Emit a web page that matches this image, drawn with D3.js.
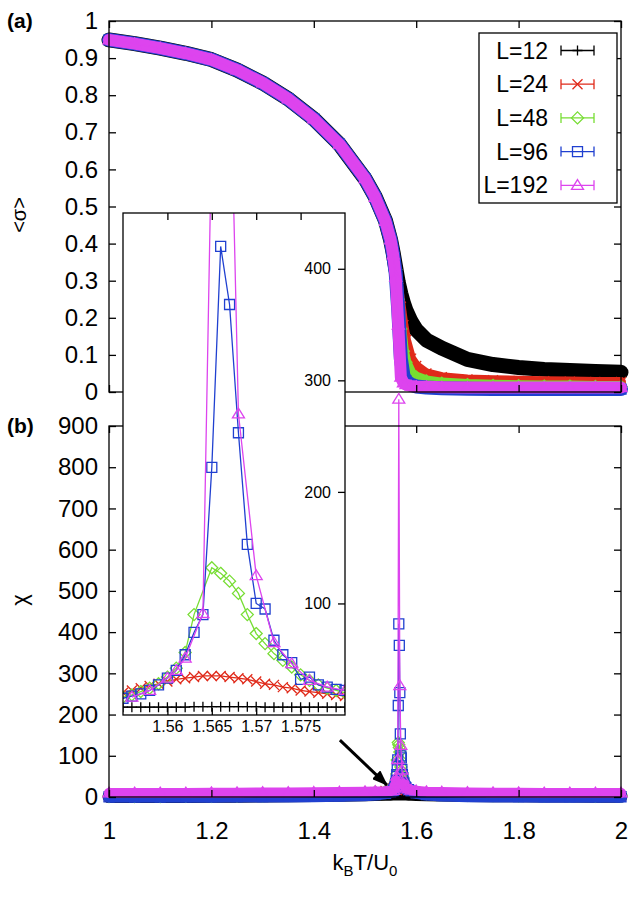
<!DOCTYPE html>
<html>
<head>
<meta charset="utf-8">
<script src="https://cdn.jsdelivr.net/npm/d3@7"></script>
<style>
  body { margin: 0; background: #fff; }
  text { font-family: 'Liberation Sans', Arial, sans-serif; fill: #000; }
</style>
</head>
<body>
<svg id="chart" width="630" height="899"></svg>
<script>
// ---- data ----
const sizes = ['L=12', 'L=24', 'L=48', 'L=96', 'L=192'];
const colors = ['#000000', '#e02a1a', '#77dd33', '#2040d0', '#dd44ee'];
const markerKinds = ['plus', 'cross', 'diamond', 'square', 'triangle'];

// panel (a): order parameter <sigma> vs k_B T / U_0
const tempsA = [1.00, 1.05, 1.10, 1.15, 1.20, 1.25, 1.30, 1.35, 1.40, 1.45, 1.50, 1.52, 1.54, 1.55,
  1.555, 1.56, 1.565, 1.57, 1.575, 1.58, 1.59, 1.60, 1.62, 1.65, 1.70, 1.75, 1.80, 1.85, 1.90, 1.95, 2.00];
const sigma12 = [0.949, 0.939, 0.927, 0.913, 0.896, 0.868, 0.833, 0.790, 0.736, 0.668, 0.575, 0.526, 0.462, 0.41,
  0.375, 0.335, 0.295, 0.265, 0.24, 0.22, 0.19, 0.168, 0.14, 0.118, 0.088, 0.074, 0.066, 0.061, 0.058, 0.055, 0.053];
const sigma24 = [0.949, 0.939, 0.927, 0.913, 0.896, 0.868, 0.833, 0.790, 0.736, 0.668, 0.575, 0.526, 0.462, 0.41,
  0.375, 0.33, 0.28, 0.23, 0.18, 0.14, 0.09, 0.07, 0.05, 0.04, 0.034, 0.032, 0.030, 0.029, 0.028, 0.027, 0.027];
const sigma48 = [0.949, 0.939, 0.927, 0.913, 0.896, 0.868, 0.833, 0.790, 0.736, 0.668, 0.575, 0.525, 0.460, 0.41,
  0.375, 0.33, 0.25, 0.17, 0.11, 0.08, 0.05, 0.04, 0.03, 0.024, 0.02, 0.018, 0.017, 0.016, 0.016, 0.015, 0.015];
const sigma96 = [0.949, 0.939, 0.927, 0.913, 0.896, 0.868, 0.833, 0.790, 0.736, 0.668, 0.575, 0.525, 0.460, 0.41,
  0.37, 0.32, 0.22, 0.09, 0.045, 0.03, 0.02, 0.015, 0.012, 0.010, 0.009, 0.008, 0.008, 0.008, 0.008, 0.008, 0.008];
const sigma192 = [0.949, 0.939, 0.927, 0.913, 0.896, 0.868, 0.833, 0.790, 0.736, 0.668, 0.575, 0.525, 0.460, 0.41,
  0.37, 0.31, 0.18, 0.04, 0.025, 0.02, 0.016, 0.015, 0.014, 0.013, 0.012, 0.012, 0.012, 0.012, 0.012, 0.012, 0.012];

// panel (b): susceptibility chi, away from the peak
const tempsFar = [1.00, 1.05, 1.10, 1.15, 1.20, 1.25, 1.30, 1.35, 1.40, 1.45, 1.50, 1.52, 1.54, 1.55,
  1.585, 1.59, 1.60, 1.62, 1.65, 1.70, 1.75, 1.80, 1.85, 1.90, 1.95, 2.00];
const chiFar12 = [1, 1, 1.2, 1.4, 1.6, 1.9, 2.3, 2.8, 3.4, 4.2, 5.2, 5.8, 6.4, 6.8,
  6.8, 6.6, 6.2, 5.5, 4.7, 3.8, 3.2, 2.8, 2.5, 2.2, 2.0, 1.9];
const chiFar24 = [1, 1, 1.2, 1.5, 1.8, 2.3, 2.9, 3.7, 4.8, 6.5, 9.5, 11.5, 14.5, 17,
  16, 14.5, 12, 9, 6.5, 4.5, 3.5, 2.8, 2.4, 2.1, 1.9, 1.8];
const chiFar48 = [1, 1, 1.2, 1.5, 1.8, 2.3, 3, 3.9, 5.2, 7.2, 10.5, 12.5, 14, 15,
  18, 15, 12, 8.5, 6, 4.3, 3.3, 2.7, 2.3, 2.0, 1.8, 1.7];
const chiFar96 = [0.5, 0.5, 0.6, 0.7, 0.8, 1, 1.2, 1.5, 2, 2.8, 4.5, 6, 9, 12,
  18, 14, 10, 6, 3.5, 2, 1.4, 1.1, 0.9, 0.8, 0.7, 0.6];
const chiFar192 = [10, 10, 10, 10, 10.5, 10.5, 11, 11, 11.5, 12, 13, 13.5, 14, 15,
  20, 17, 15, 13, 12, 11, 10.5, 10.5, 10, 10, 10, 10];

// panel (b) and inset: close to the transition
const tempsNear = [1.555, 1.556, 1.557, 1.558, 1.559, 1.560, 1.561, 1.562, 1.563, 1.564, 1.565, 1.566, 1.567,
  1.568, 1.569, 1.570, 1.571, 1.572, 1.573, 1.574, 1.575, 1.576, 1.577, 1.578, 1.579, 1.580];
const chiNear12 = [7, 7, 7, 7, 7, 7, 7, 7, 7.5, 7.5, 7.5, 7.5, 7.5, 7.5, 7.5, 7.5, 7, 7, 7, 7, 7, 7, 7, 7, 7, 7];
const chiNear24 = [20, 22, 24, 26, 28, 30, 32, 33, 34, 35, 35, 35, 34, 33, 32, 30, 28, 27, 25, 24, 22, 21, 20, 19, 18, 17];
const chiNear48 = [16, 18, 21, 24, 28, 34, 42, 56, 90, null, 132, 127, 120, 109, 90, 73, 64, 55, 49, 43, 36, 31, 27, 24, 22, 20];
const chiNear96 = [15, 17, 19, 22, 27, 33, 40, 54, 74, 90, 222, 420, 368, 253, 153, 100, 95, 67, 54, 47, 32, 34, 27, 25, 23, 22];
const chiNear192 = [null, 16, null, 22, null, 33, 40, 51, null, 91, null, 965, null, 270, null, 125, null, 65, null, 46, null, 31, null, 25, null, 22];

const ticksX = [1, 1.2, 1.4, 1.6, 1.8, 2];
const ticksA = [0, 0.1, 0.2, 0.3, 0.4, 0.5, 0.6, 0.7, 0.8, 0.9, 1];
const ticksB = [0, 100, 200, 300, 400, 500, 600, 700, 800, 900];
const ticksInsetX = [1.56, 1.565, 1.57, 1.575];
const ticksInsetY = [100, 200, 300, 400];

// arrow pointing from the inset to the peak, in data units of panel (b)
const arrowFrom = [1.451, 138];
const arrowTo = [1.543, 29];

// ---- layout ----
const svg = d3.select('#chart');
const x = d3.scaleLinear().domain([1, 2]).range([109, 621]);
const yA = d3.scaleLinear().domain([0, 1]).range([392, 21]);
const yB = d3.scaleLinear().domain([0, 900]).range([797, 426]);
const xIn = d3.scaleLinear().domain([1.555, 1.58]).range([123, 345]);
const yIn = d3.scaleLinear().domain([0, 450]).range([715, 213]);

const sigmaSets = [sigma12, sigma24, sigma48, sigma96, sigma192];
const farSets = [chiFar12, chiFar24, chiFar48, chiFar96, chiFar192];
const nearSets = [chiNear12, chiNear24, chiNear48, chiNear96, chiNear192];
const bandWidths = [15, 10, 11, 14, 12];

function markerPath(kind, s) {
  if (kind === 'plus') return `M${-s},0H${s}M0,${-s}V${s}`;
  if (kind === 'cross') return `M${-s},${-s}L${s},${s}M${-s},${s}L${s},${-s}`;
  if (kind === 'diamond') return `M0,${-s * 1.2}L${s * 1.2},0L0,${s * 1.2}L${-s * 1.2},0Z`;
  if (kind === 'square') return `M${-s},${-s}H${s}V${s}H${-s}Z`;
  return `M0,${-s * 1.15}L${s * 1.2},${s * 0.8}L${-s * 1.2},${s * 0.8}Z`;
}

function drawSeries(g, pts, sx, sy, i, band, bandOk) {
  const line = d3.line().x(d => sx(d.t)).y(d => sy(d.v));
  if (band) {
    g.append('path').datum(pts)
      .attr('d', d3.line().defined(bandOk).x(d => sx(d.t)).y(d => sy(d.v)))
      .attr('fill', 'none').attr('stroke', colors[i]).attr('stroke-width', band)
      .attr('stroke-linejoin', 'round').attr('stroke-linecap', 'round');
  }
  g.append('path').datum(pts).attr('d', line)
    .attr('fill', 'none').attr('stroke', colors[i]).attr('stroke-width', 1.3);
  g.selectAll(null).data(pts).join('path')
    .attr('transform', d => `translate(${sx(d.t)},${sy(d.v)})`)
    .attr('d', markerPath(markerKinds[i], 5))
    .attr('fill', 'none').attr('stroke', colors[i]).attr('stroke-width', 1.3);
}

function frame(top, bottom, yScale, ticks, fmt) {
  const g = svg.append('g');
  g.append('rect').attr('x', 109).attr('y', top).attr('width', 512).attr('height', bottom - top)
    .attr('fill', 'none').attr('stroke', '#000').attr('stroke-width', 1.3);
  const left = g.append('g').attr('transform', 'translate(109,0)')
    .call(d3.axisLeft(yScale).tickValues(ticks).tickSizeInner(-7).tickSizeOuter(0).tickPadding(11).tickFormat(fmt));
  const right = g.append('g').attr('transform', 'translate(621,0)')
    .call(d3.axisRight(yScale).tickValues(ticks).tickSizeInner(-7).tickSizeOuter(0).tickFormat(''));
  const topAx = g.append('g').attr('transform', `translate(0,${top})`)
    .call(d3.axisTop(x).tickValues(ticksX).tickSizeInner(-7).tickSizeOuter(0).tickFormat(''));
  const bot = g.append('g').attr('transform', `translate(0,${bottom})`)
    .call(d3.axisBottom(x).tickValues(ticksX).tickSizeInner(-7).tickSizeOuter(0).tickPadding(25)
      .tickFormat(bottom > 600 ? (d => d) : ''));
  [left, right, topAx, bot].forEach(a => {
    a.select('.domain').remove();
    a.selectAll('line').attr('stroke', '#000').attr('stroke-width', 1.3);
    a.selectAll('text').attr('font-size', 24).attr('font-family', null);
  });
  return g;
}

// ---- panel (a) ----
const gA = svg.append('g');
sigmaSets.forEach((vals, i) => {
  const pts = tempsA.map((t, k) => ({ t: t, v: vals[k] }));
  drawSeries(gA, pts, x, yA, i, bandWidths[i], () => true);
});
frame(21, 392, yA, ticksA, d => d);

// ---- panel (b) ----
const gB = svg.append('g');
farSets.forEach((far, i) => {
  const pts = tempsFar.map((t, k) => ({ t: t, v: far[k] }))
    .concat(tempsNear.map((t, k) => ({ t: t, v: nearSets[i][k] })).filter(d => d.v !== null))
    .sort((a, b) => a.t - b.t);
  drawSeries(gB, pts, x, yB, i, bandWidths[i] - 2, d => d.v < 45);
});
frame(426, 797, yB, ticksB, d => d);

// arrow
svg.append('defs').append('marker')
  .attr('id', 'head').attr('viewBox', '0 -6 16 12').attr('refX', 15).attr('refY', 0)
  .attr('markerWidth', 16).attr('markerHeight', 12).attr('markerUnits', 'userSpaceOnUse')
  .attr('orient', 'auto')
  .append('path').attr('d', 'M0,-6L16,0L0,6Z').attr('fill', '#000');
svg.append('line')
  .attr('x1', x(arrowFrom[0])).attr('y1', yB(arrowFrom[1]))
  .attr('x2', x(arrowTo[0])).attr('y2', yB(arrowTo[1]))
  .attr('stroke', '#000').attr('stroke-width', 3).attr('marker-end', 'url(#head)');

// ---- inset ----
const gI = svg.append('g');
gI.append('rect').attr('x', 123).attr('y', 213).attr('width', 222).attr('height', 502)
  .attr('fill', '#fff');
svg.append('clipPath').attr('id', 'insetClip').append('rect')
  .attr('x', 123).attr('y', 213).attr('width', 222).attr('height', 502);
const gInData = gI.append('g').attr('clip-path', 'url(#insetClip)');
nearSets.forEach((vals, i) => {
  const pts = tempsNear.map((t, k) => ({ t: t, v: vals[k] })).filter(d => d.v !== null);
  drawSeries(gInData, pts, xIn, yIn, i, 0, null);
});
gI.append('rect').attr('x', 123).attr('y', 213).attr('width', 222).attr('height', 502)
  .attr('fill', 'none').attr('stroke', '#000').attr('stroke-width', 1.3);
const inTop = gI.append('g').attr('transform', 'translate(0,213)')
  .call(d3.axisTop(xIn).tickValues(ticksInsetX).tickSizeInner(-7).tickSizeOuter(0).tickFormat(''));
const inBot = gI.append('g').attr('transform', 'translate(0,715)')
  .call(d3.axisBottom(xIn).tickValues(ticksInsetX).tickSizeInner(-7).tickSizeOuter(0).tickPadding(6).tickFormat(d => d));
const inRight = gI.append('g').attr('transform', 'translate(345,0)')
  .call(d3.axisLeft(yIn).tickValues(ticksInsetY).tickSizeInner(7).tickSizeOuter(0).tickPadding(7).tickFormat(d => d));
[inTop, inBot, inRight].forEach(a => {
  a.select('.domain').remove();
  a.selectAll('line').attr('stroke', '#000').attr('stroke-width', 1.3);
  a.selectAll('text').attr('font-size', 16).attr('font-family', null);
});

// ---- legend ----
const gL = svg.append('g');
gL.append('rect').attr('x', 479).attr('y', 33).attr('width', 138).attr('height', 170)
  .attr('fill', '#fff').attr('stroke', '#000').attr('stroke-width', 1.3);
sizes.forEach((name, i) => {
  const yy = 50.5 + i * 33.7;
  gL.append('text').attr('x', 548).attr('y', yy).attr('dy', '0.35em')
    .attr('text-anchor', 'end').attr('font-size', 23).text(name);
  gL.append('path').attr('d', `M561,${yy}H594M561,${yy - 5}V${yy + 5}M594,${yy - 5}V${yy + 5}`)
    .attr('stroke', colors[i]).attr('stroke-width', 1.3).attr('fill', 'none');
  gL.append('path').attr('transform', `translate(577.5,${yy})`)
    .attr('d', markerPath(markerKinds[i], 5))
    .attr('stroke', colors[i]).attr('stroke-width', 1.3).attr('fill', 'none');
});

// ---- labels ----
svg.append('text').attr('x', 7).attr('y', 28).attr('font-size', 21).attr('font-weight', 'bold').text('(a)');
svg.append('text').attr('x', 7).attr('y', 433).attr('font-size', 21).attr('font-weight', 'bold').text('(b)');
svg.append('text').attr('transform', 'translate(26,215) rotate(-90)').attr('text-anchor', 'middle')
  .attr('font-size', 20).text('<σ>');
svg.append('text').attr('transform', 'translate(27,600) rotate(-90)').attr('text-anchor', 'middle')
  .attr('font-size', 22).text('χ');
const xl = svg.append('text').attr('x', 365).attr('y', 870).attr('text-anchor', 'middle').attr('font-size', 22);
xl.append('tspan').text('k');
xl.append('tspan').attr('dy', 6).attr('font-size', 15).text('B');
xl.append('tspan').attr('dy', -6).text('T/U');
xl.append('tspan').attr('dy', 6).attr('font-size', 15).text('0');
</script>
</body>
</html>
